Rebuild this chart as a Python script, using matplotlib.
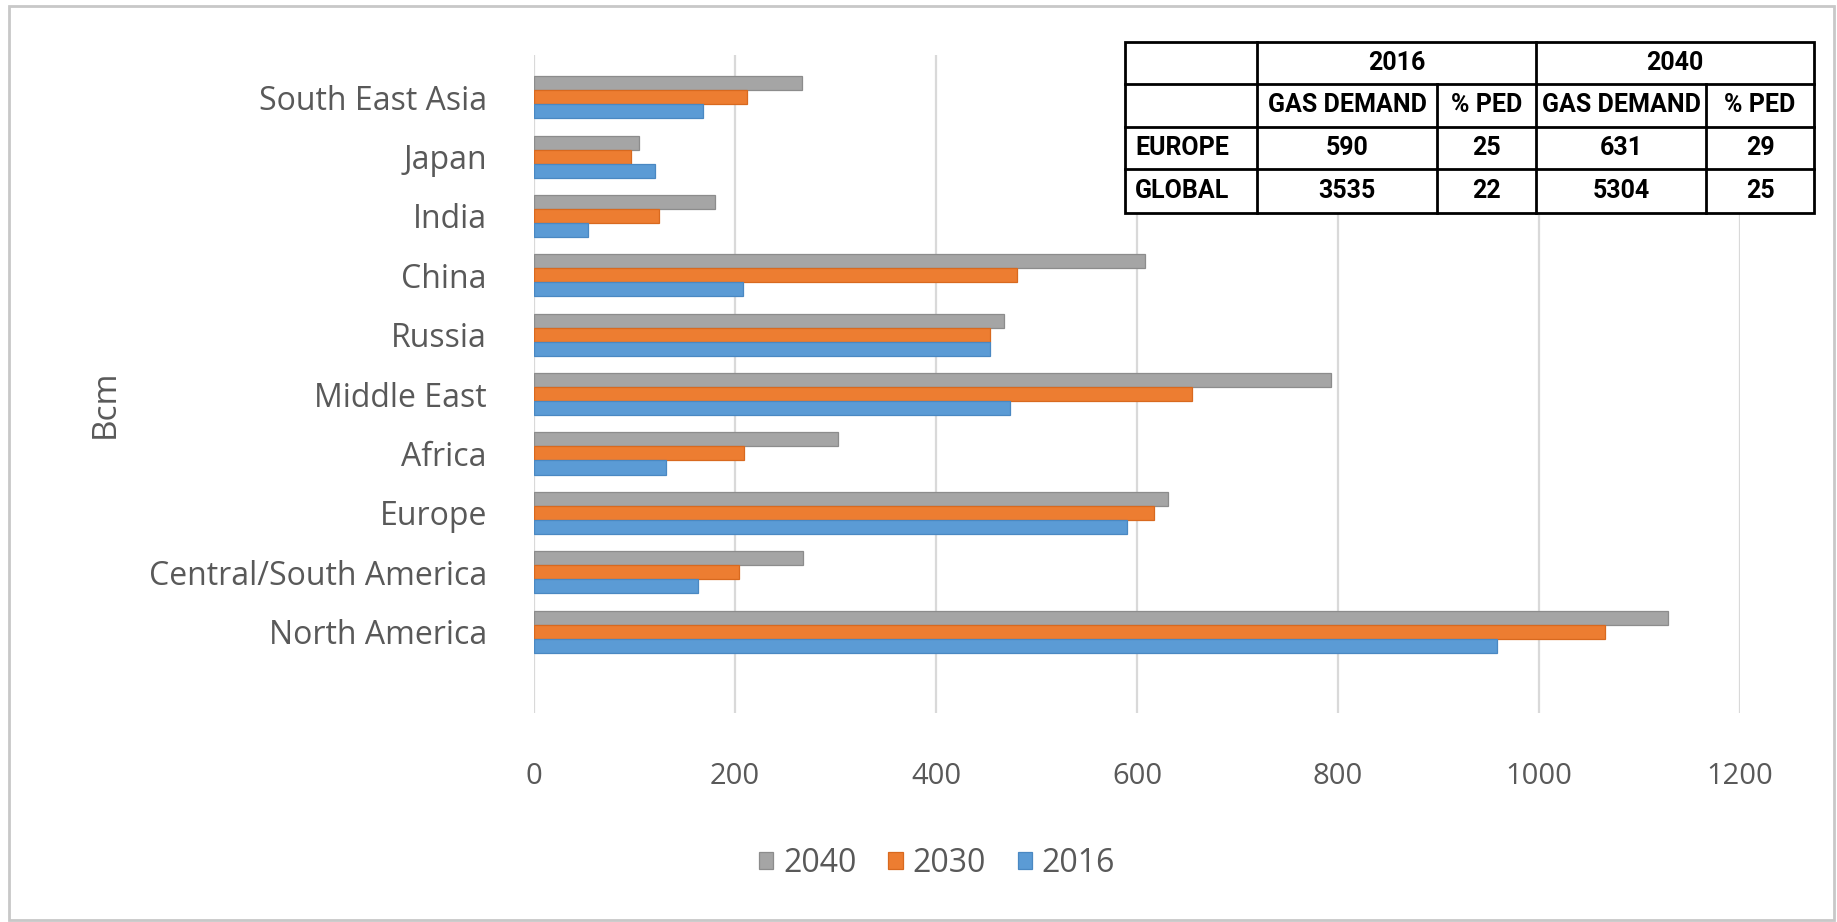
import numpy as np
import matplotlib.pyplot as plt
from matplotlib.patches import Rectangle
from matplotlib.lines import Line2D

# Gas demand by region (Bcm)
regions = ['North America', 'Central/South America', 'Europe', 'Africa', 'Middle East',
           'Russia', 'China', 'India', 'Japan', 'South East Asia']
d2016 = [958, 163, 590, 131, 474, 454, 208, 54, 120, 168]
d2030 = [1066, 204, 617, 209, 655, 454, 481, 124, 97, 212]
d2040 = [1128, 268, 631, 302, 793, 468, 608, 180, 104, 267]
xticks = [0, 200, 400, 600, 800, 1000, 1200]

# inset table
tab_years = ['2016', '2040']
tab_cols = ['GAS DEMAND', '% PED', 'GAS DEMAND', '% PED']
tab_rows = ['EUROPE', 'GLOBAL']
tab_vals = [['590', '25', '631', '29'],
            ['3535', '22', '5304', '25']]

c16, c30, c40 = '#5B9BD5', '#ED7D31', '#A5A5A5'
txt = '#595959'
font = ['Open Sans', 'DejaVu Sans']
tfont = ['Roboto', 'DejaVu Sans']

W, H = 1837, 922
fig = plt.figure(figsize=(W / 100, H / 100), dpi=100)
ax = fig.add_axes([534 / W, 1 - 713 / H, (1740 - 534) / W, (713 - 55) / H])

y = np.arange(len(regions))
h = 0.236
ax.barh(y + h, d2040, height=h, color=c40, edgecolor='#8C8C8C', linewidth=0.9, label='2040', zorder=3)
ax.barh(y, d2030, height=h, color=c30, edgecolor='#D8691F', linewidth=0.9, label='2030', zorder=3)
ax.barh(y - h, d2016, height=h, color=c16, edgecolor='#4A88C2', linewidth=0.9, label='2016', zorder=3)

ax.set_xlim(0, 1200)
ax.set_ylim(-1.37, 9.71)
ax.set_xticks(xticks)
ax.set_xticklabels([str(v) for v in xticks])
ax.set_yticks(y)
ax.set_yticklabels(regions)
ax.xaxis.grid(True, color='#D9D9D9', linewidth=1.6, zorder=0)
ax.set_axisbelow(True)
for s in ax.spines.values():
    s.set_visible(False)
ax.tick_params(axis='x', length=0, pad=35, labelsize=21, labelcolor=txt)
ax.tick_params(axis='y', length=0, pad=34, labelsize=23, labelcolor=txt)
for lab in ax.get_xticklabels() + ax.get_yticklabels():
    lab.set_family(font)

fig.text(105 / W, 1 - 404 / H, 'Bcm', rotation=90, ha='center', va='center',
         fontsize=24, color=txt, family=font)

leg = fig.legend(loc='center', bbox_to_anchor=(937 / W, 1 - 863 / H), ncol=3, frameon=False,
                 prop={'family': font, 'size': 23}, handlelength=0.45, handleheight=0.45,
                 handletextpad=0.3, columnspacing=1.0, labelcolor=txt)

# outer chart frame
fig.add_artist(Rectangle((9 / W, 1 - 920 / H), (1834 - 9) / W, (920 - 6) / H,
                         transform=fig.transFigure, fill=False, edgecolor='#C8C8C8', linewidth=2))

# table drawn in figure pixels
colx = [1125, 1257, 1437, 1536, 1706, 1814]
rowy = [42, 84, 127, 169, 213]
tr = fig.transFigure


def fx(px):
    return px / W


def fy(py):
    return 1 - py / H


fig.add_artist(Rectangle((fx(colx[0]), fy(rowy[-1])), fx(colx[-1] - colx[0]), (rowy[-1] - rowy[0]) / H,
                         transform=tr, facecolor='white', edgecolor='black', linewidth=2, zorder=5))
lk = dict(transform=tr, color='black', linewidth=2, zorder=6)
for r in rowy[1:-1]:
    fig.add_artist(Line2D([fx(colx[0]), fx(colx[-1])], [fy(r), fy(r)], **lk))
for i, c in enumerate(colx[1:-1]):
    if i in (1, 3):
        fig.add_artist(Line2D([fx(c), fx(c)], [fy(rowy[1]), fy(rowy[-1])], **lk))
    else:
        fig.add_artist(Line2D([fx(c), fx(c)], [fy(rowy[0]), fy(rowy[-1])], **lk))

tk = dict(ha='center', va='center', fontsize=18, fontweight='bold', color='black', family=tfont, zorder=7)
ym = [(rowy[i] + rowy[i + 1]) / 2 for i in range(4)]
fig.text(fx((colx[1] + colx[3]) / 2), fy(ym[0]), tab_years[0], **tk)
fig.text(fx((colx[3] + colx[5]) / 2), fy(ym[0]), tab_years[1], **tk)
for j, name in enumerate(tab_cols):
    fig.text(fx((colx[j + 1] + colx[j + 2]) / 2), fy(ym[1]), name, **tk)
for i, rn in enumerate(tab_rows):
    fig.text(fx(colx[0] + 10), fy(ym[i + 2]), rn, **{**tk, 'ha': 'left'})
    for j, v in enumerate(tab_vals[i]):
        fig.text(fx((colx[j + 1] + colx[j + 2]) / 2), fy(ym[i + 2]), v, **tk)

fig.savefig('out.png', dpi=100, facecolor='white')
